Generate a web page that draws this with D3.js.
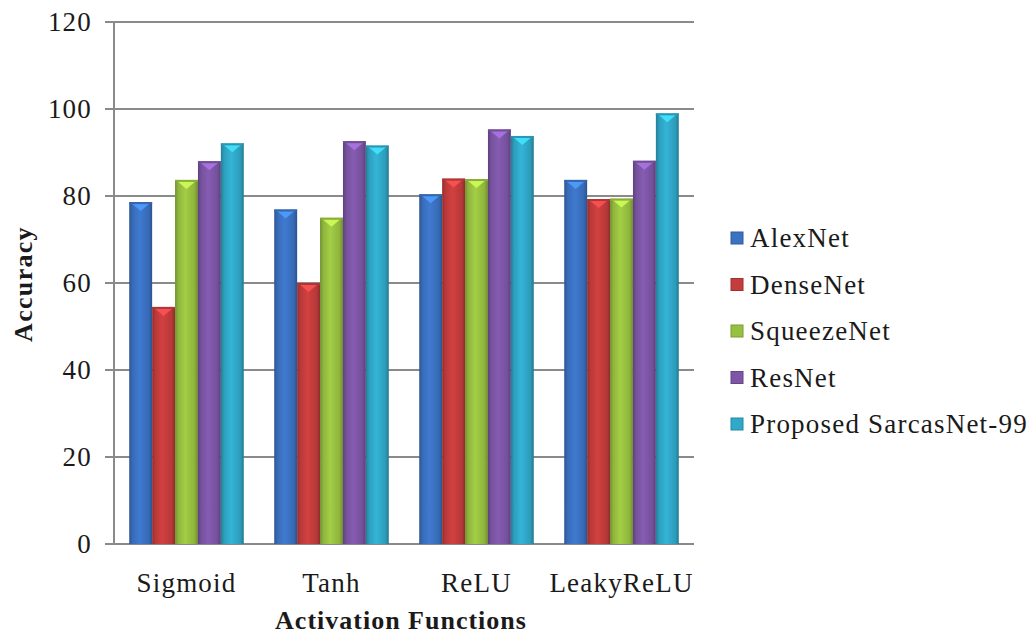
<!DOCTYPE html>
<html><head><meta charset="utf-8">
<script src="https://cdn.jsdelivr.net/npm/d3@7"></script>
<style>body{margin:0;background:#fff}svg{display:block}text{font-family:"Liberation Serif","Times New Roman",serif}</style>
</head><body><svg id="c" width="1027" height="636"></svg>
<script>
const categories = ["Sigmoid", "Tanh", "ReLU", "LeakyReLU"];
const seriesNames = ["AlexNet", "DenseNet", "SqueezeNet", "ResNet", "Proposed SarcasNet-99"];
const alexNet = [78.6, 76.9, 80.4, 83.7];
const denseNet = [54.5, 60.0, 84.0, 79.3];
const squeezeNet = [83.7, 75.0, 83.9, 79.4];
const resNet = [88.0, 92.6, 95.3, 88.1];
const proposed = [92.1, 91.6, 93.8, 99.0];
const yTicks = [0, 20, 40, 60, 80, 100, 120];
const colors = ["#3b72c2", "#c43c3c", "#98c040", "#7d56a6", "#30a8c8"];
const series = [alexNet, denseNet, squeezeNet, resNet, proposed];

const svg = d3.select("#c");
const L = 114, R = 694, T = 22, B = 544;
const x = d3.scaleBand().domain(categories).range([L, R]).paddingInner(0.21).paddingOuter(0.105);
const xs = d3.scaleBand().domain(seriesNames).range([0, x.bandwidth()]);
const y = d3.scaleLinear().domain([0, 120]).range([B, T]);

const defs = svg.append("defs");
colors.forEach((c, i) => {
  const g = defs.append("linearGradient").attr("id", "g" + i).attr("x1", 0).attr("x2", 1).attr("y1", 0).attr("y2", 0);
  const base = d3.color(c);
  g.append("stop").attr("offset", "0%").attr("stop-color", base.darker(0.8));
  g.append("stop").attr("offset", "15%").attr("stop-color", base.darker(0.15));
  g.append("stop").attr("offset", "45%").attr("stop-color", base.brighter(0.2));
  g.append("stop").attr("offset", "85%").attr("stop-color", base.darker(0.2));
  g.append("stop").attr("offset", "100%").attr("stop-color", base.darker(0.9));
});

// gridlines
svg.append("g").selectAll("line").data(yTicks).join("line")
  .attr("x1", L - 9).attr("x2", R).attr("y1", d => y(d)).attr("y2", d => y(d))
  .attr("stroke", "#8a8a8a").attr("stroke-width", 2);
svg.append("line").attr("x1", L).attr("x2", L).attr("y1", T).attr("y2", B)
  .attr("stroke", "#8a8a8a").attr("stroke-width", 2);

// y tick labels
svg.append("g").selectAll("text").data(yTicks).join("text")
  .attr("x", L - 22).attr("y", d => y(d)).attr("dy", "0.35em")
  .attr("text-anchor", "end").attr("font-size", 27).attr("letter-spacing", 1.2)
  .attr("fill", "#1a1a1a").text(d => d);

// bars
const bars = svg.append("g");
series.forEach((vals, si) => {
  const g = bars.append("g");
  categories.forEach((cat, ci) => {
    const bx = x(cat) + xs(seriesNames[si]);
    const bw = xs.bandwidth();
    const by = y(vals[ci]);
    g.append("rect").attr("x", bx).attr("y", by).attr("width", bw).attr("height", B - by)
      .attr("fill", `url(#g${si})`);
    const light = d3.color(colors[si]).brighter(0.9);
    g.append("path")
      .attr("d", `M${bx + 2},${by + 1}L${bx + bw - 2},${by + 1}L${bx + bw / 2},${by + 9}Z`)
      .attr("fill", light).attr("opacity", 0.85);
    g.append("rect").attr("x", bx).attr("y", by).attr("width", bw).attr("height", 2)
      .attr("fill", d3.color(colors[si]).darker(0.3));
  });
});

// x labels
svg.append("g").selectAll("text").data(categories).join("text")
  .attr("x", d => x(d) + x.bandwidth() / 2).attr("y", 592)
  .attr("text-anchor", "middle").attr("font-size", 27).attr("letter-spacing", 1.2)
  .attr("fill", "#1a1a1a").text(d => d);

svg.append("text").attr("x", 401).attr("y", 629).attr("text-anchor", "middle")
  .attr("font-size", 26).attr("font-weight", "bold").attr("letter-spacing", 1)
  .attr("fill", "#1a1a1a").text("Activation Functions");
svg.append("text").attr("transform", "translate(32,284) rotate(-90)").attr("text-anchor", "middle")
  .attr("font-size", 26).attr("font-weight", "bold").attr("letter-spacing", 1.3)
  .attr("fill", "#1a1a1a").text("Accuracy");

// legend
const lg = svg.append("g").selectAll("g").data(seriesNames).join("g")
  .attr("transform", (d, i) => `translate(731,${238 + i * 46.5})`);
lg.append("rect").attr("x", 0).attr("y", -6).attr("width", 12).attr("height", 12)
  .attr("fill", (d, i) => colors[i]).attr("stroke", (d, i) => d3.color(colors[i]).darker(0.6)).attr("stroke-width", 1);
lg.append("text").attr("x", 19).attr("y", 0).attr("dy", "0.35em").attr("font-size", 27)
  .attr("letter-spacing", 1.2).attr("fill", "#1a1a1a").text(d => d);
</script></body></html>
